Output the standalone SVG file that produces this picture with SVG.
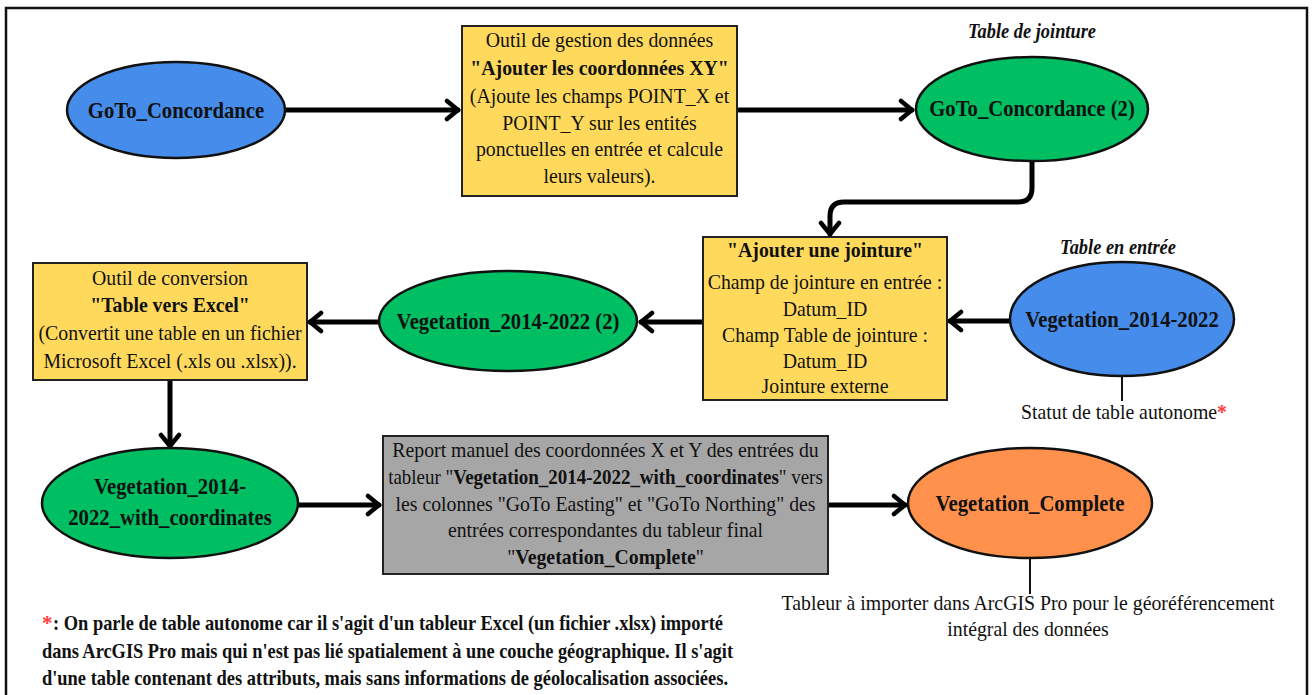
<svg xmlns="http://www.w3.org/2000/svg" width="1312" height="695" viewBox="0 0 1312 695">
<defs>
<style>
.t{font-family:"Liberation Serif","Times New Roman",serif;font-size:22px;text-anchor:middle;fill:#111}
.b{font-weight:bold}
.e{font-weight:bold;font-size:23px}
.i{font-style:italic;font-weight:bold;font-size:20px}
.fn{font-family:"Liberation Serif","Times New Roman",serif;font-size:21px;font-weight:bold;fill:#111}
.box{stroke:#222;stroke-width:2}
.ell{stroke:#111;stroke-width:2.5}
.con{fill:none;stroke:#000;stroke-width:5;stroke-linecap:round;stroke-linejoin:round}
.thin{fill:none;stroke:#111;stroke-width:2}
.red{fill:#FF3B3B;font-weight:bold}
</style>
<marker id="ah" markerUnits="userSpaceOnUse" markerWidth="20" markerHeight="24" refX="14" refY="12" orient="auto" viewBox="0 0 20 24">
<path d="M3,3 L14,12 L3,21" fill="none" stroke="#000" stroke-width="4.5" stroke-linecap="round" stroke-linejoin="round"/>
</marker>
</defs>
<rect x="0" y="0" width="1312" height="695" fill="#fff"/>
<rect x="6" y="8" width="1301" height="700" fill="none" stroke="#111" stroke-width="2.5"/>

<g id="connectors">
<path class="con" d="M286,110 H458" marker-end="url(#ah)"/>
<path class="con" d="M739,110 H912" marker-end="url(#ah)"/>
<path class="con" d="M1032,162 V188 Q1032,202 1018,202 H844 Q830,202 830,216 V234" marker-end="url(#ah)"/>
<path class="con" d="M1009,321 H950" marker-end="url(#ah)"/>
<path class="con" d="M702,322 H641" marker-end="url(#ah)"/>
<path class="con" d="M378,322 H310" marker-end="url(#ah)"/>
<path class="con" d="M170,381 V446" marker-end="url(#ah)"/>
<path class="con" d="M299,505 H379" marker-end="url(#ah)"/>
<path class="con" d="M829,505 H905" marker-end="url(#ah)"/>
<path class="thin" d="M1122,376 V401"/>
<path class="thin" d="M1030,558 V594"/>
</g>

<g id="goto-concordance">
<ellipse class="ell" cx="176" cy="110" rx="109" ry="48" fill="#468CEA"/>
<text class="t e" transform="translate(176,118) scale(0.9,1)">GoTo_Concordance</text>
</g>

<g id="outil-xy">
<rect class="box" x="462" y="26" width="275" height="170" fill="#FFD95C"/>
<text class="t" transform="translate(599.5,47) scale(0.9,1)">Outil de gestion des données</text>
<text class="t b" transform="translate(599.5,75) scale(0.9,1)">"Ajouter les coordonnées XY"</text>
<text class="t" transform="translate(599.5,103) scale(0.9,1)">(Ajoute les champs POINT_X et</text>
<text class="t" transform="translate(599.5,130) scale(0.9,1)">POINT_Y sur les entités</text>
<text class="t" transform="translate(599.5,156) scale(0.9,1)">ponctuelles en entrée et calcule</text>
<text class="t" transform="translate(599.5,183) scale(0.9,1)">leurs valeurs).</text>
</g>

<g id="goto-concordance-2">
<text class="t i" transform="translate(1032,38) scale(0.92,1)">Table de jointure</text>
<ellipse class="ell" cx="1032" cy="109" rx="116" ry="52" fill="#00BF63"/>
<text class="t e" transform="translate(1032,116) scale(0.9,1)">GoTo_Concordance (2)</text>
</g>

<g id="ajouter-jointure">
<rect class="box" x="703" y="237" width="244" height="163" fill="#FFD95C"/>
<text class="t b" transform="translate(825,257) scale(0.9,1)">"Ajouter une jointure"</text>
<text class="t" transform="translate(825,289) scale(0.9,1)">Champ de jointure en entrée :</text>
<text class="t" transform="translate(825,316) scale(0.9,1)">Datum_ID</text>
<text class="t" transform="translate(825,342) scale(0.9,1)">Champ Table de jointure :</text>
<text class="t" transform="translate(825,368) scale(0.9,1)">Datum_ID</text>
<text class="t" transform="translate(825,393) scale(0.9,1)">Jointure externe</text>
</g>

<g id="vegetation-2014-2022">
<text class="t i" transform="translate(1118,254) scale(0.92,1)">Table en entrée</text>
<ellipse class="ell" cx="1122" cy="319" rx="112" ry="57" fill="#468CEA"/>
<text class="t e" transform="translate(1122,327) scale(0.9,1)">Vegetation_2014-2022</text>
<text class="t" transform="translate(1124,419) scale(0.9,1)">Statut de table autonome<tspan class="red">*</tspan></text>
</g>

<g id="vegetation-2014-2022-2">
<ellipse class="ell" cx="508" cy="321" rx="129" ry="50" fill="#00BF63"/>
<text class="t e" transform="translate(508,329) scale(0.9,1)">Vegetation_2014-2022 (2)</text>
</g>

<g id="table-vers-excel">
<rect class="box" x="33" y="263" width="274" height="117" fill="#FFD95C"/>
<text class="t" transform="translate(170,285) scale(0.9,1)">Outil de conversion</text>
<text class="t b" transform="translate(170,312) scale(0.9,1)">"Table vers Excel"</text>
<text class="t" transform="translate(170,340) scale(0.9,1)">(Convertit une table en un fichier</text>
<text class="t" transform="translate(170,368) scale(0.9,1)">Microsoft Excel (.xls ou .xlsx)).</text>
</g>

<g id="vegetation-with-coordinates">
<ellipse class="ell" cx="170" cy="503" rx="128" ry="55" fill="#00BF63"/>
<text class="t e" transform="translate(170,494) scale(0.9,1)">Vegetation_2014-</text>
<text class="t e" transform="translate(170,525) scale(0.9,1)">2022_with_coordinates</text>
</g>

<g id="report-manuel">
<rect class="box" x="383" y="436" width="445" height="138" fill="#A6A6A6"/>
<text class="t" transform="translate(605.5,457) scale(0.9,1)">Report manuel des coordonnées X et Y des entrées du</text>
<text class="t" transform="translate(605.5,484) scale(0.862,1)">tableur "<tspan class="b">Vegetation_2014-2022_with_coordinates</tspan>" vers</text>
<text class="t" transform="translate(605.5,511) scale(0.9,1)">les colonnes "GoTo Easting" et "GoTo Northing" des</text>
<text class="t" transform="translate(605.5,537) scale(0.9,1)">entrées correspondantes du tableur final</text>
<text class="t" transform="translate(605.5,564) scale(0.9,1)">"<tspan class="b">Vegetation_Complete</tspan>"</text>
</g>

<g id="vegetation-complete">
<ellipse class="ell" cx="1030" cy="503" rx="122" ry="55" fill="#FF914D"/>
<text class="t e" transform="translate(1030,511) scale(0.9,1)">Vegetation_Complete</text>
<text class="t" transform="translate(1028,610) scale(0.9,1)">Tableur à importer dans ArcGIS Pro pour le géoréférencement</text>
<text class="t" transform="translate(1028,636) scale(0.9,1)">intégral des données</text>
</g>

<g id="footnote">
<text class="fn" x="42" y="630"><tspan fill="#FF3B3B">*</tspan></text>
<text class="fn" x="53" y="630" textLength="670" lengthAdjust="spacingAndGlyphs">: On parle de table autonome car il s'agit d'un tableur Excel (un fichier .xlsx) importé</text>
<text class="fn" x="42" y="658" textLength="691" lengthAdjust="spacingAndGlyphs">dans ArcGIS Pro mais qui n'est pas lié spatialement à une couche géographique. Il s'agit</text>
<text class="fn" x="42" y="685" textLength="686" lengthAdjust="spacingAndGlyphs">d'une table contenant des attributs, mais sans informations de géolocalisation associées.</text>
</g>
</svg>
